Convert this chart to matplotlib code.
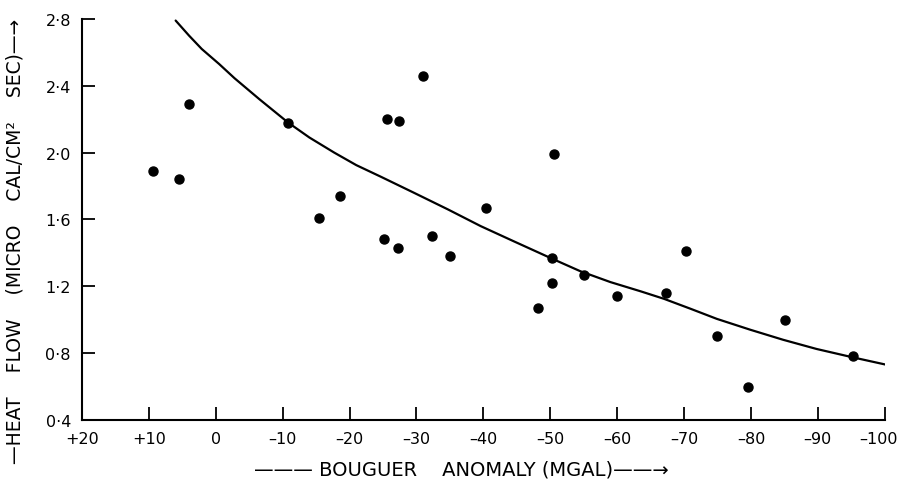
import matplotlib
matplotlib.use('Agg')
import matplotlib.pyplot as plt
from matplotlib.transforms import ScaledTranslation

# observed stations: bouguer anomaly (mgal) vs heat flow
bouguer = [9.4, 5.5, 4.0, -10.8, -15.5, -18.5, -25.6, -27.4, -31.0, -25.2, -27.2,
           -32.3, -35.0, -40.4, -50.2, -50.2, -48.1, -55.0, -60.0, -67.3, -70.3,
           -74.9, -79.6, -85.1, -95.3, -50.5]
heat_flow = [1.89, 1.84, 2.29, 2.18, 1.61, 1.74, 2.20, 2.19, 2.46, 1.48, 1.43,
             1.50, 1.38, 1.67, 1.37, 1.22, 1.07, 1.27, 1.14, 1.16, 1.41,
             0.90, 0.595, 1.00, 0.78, 1.99]

# fitted curve
curve_x = [6.0, 4.0, 2.1, -0.5, -2.8, -6.5, -10.8, -14.0, -17.7, -21.0, -24.7,
           -29.6, -34.7, -39.6, -44.5, -50.0, -54.5, -59.0, -63.5, -67.0,
           -71.0, -74.9, -79.9, -84.8, -89.8, -95.2, -100.3]
curve_y = [2.79, 2.70, 2.62, 2.53, 2.445, 2.32, 2.18, 2.09, 2.00, 1.925, 1.855,
           1.76, 1.66, 1.56, 1.47, 1.37, 1.29, 1.225, 1.17, 1.125,
           1.065, 1.005, 0.94, 0.88, 0.825, 0.775, 0.73]

xticks = [20, 10, 0, -10, -20, -30, -40, -50, -60, -70, -80, -90, -100]
xtick_labels = ['+20', '+10', '0', '\u201310', '\u201320', '\u201330', '\u201340',
                '\u201350', '\u201360', '\u201370', '\u201380', '\u201390', '\u2013100']
yticks = [0.4, 0.8, 1.2, 1.6, 2.0, 2.4, 2.8]
ytick_labels = ['0\u00b74', '0\u00b78', '1\u00b72', '1\u00b76', '2\u00b70', '2\u00b74', '2\u00b78']

plt.rcParams['font.family'] = ['DejaVu Sans']

fig = plt.figure(figsize=(9.04, 4.85), dpi=100)
ax = fig.add_axes([0.0907, 0.132, 0.888, 0.827])

ax.plot(curve_x, curve_y, color='black', linewidth=1.6, solid_capstyle='round')
ax.plot(bouguer, heat_flow, 'o', color='black', markersize=6.5, linestyle='none')

ax.set_xlim(20, -100)
ax.set_ylim(0.4, 2.8)
ax.set_xticks(xticks)
ax.set_xticklabels(xtick_labels)
ax.set_yticks(yticks)
ax.set_yticklabels(ytick_labels)

for side in ['top', 'right']:
    ax.spines[side].set_visible(False)
for side in ['left', 'bottom']:
    ax.spines[side].set_linewidth(1.5)

ax.tick_params(axis='x', direction='in', length=9.5, width=1.3, pad=8, labelsize=11.5)
ax.tick_params(axis='y', direction='in', length=9.5, width=1.3, pad=8, labelsize=11.5)

# last label sits a little left of its tick, as in the original
last = ax.get_xticklabels()[-1]
last.set_transform(last.get_transform() + ScaledTranslation(-6 / 100, 0, fig.dpi_scale_trans))

fig.text(0.0166, 0.503, '\u2014HEAT    FLOW    (MICRO    CAL/CM\u00b2    SEC)\u2014\u2192',
         rotation=90, ha='center', va='center', fontsize=13.5)
fig.text(0.510, 0.031, '\u2014\u2014\u2014 BOUGUER    ANOMALY (MGAL)\u2014\u2014\u2192',
         ha='center', va='center', fontsize=14)

fig.savefig('out.png', dpi=100)
